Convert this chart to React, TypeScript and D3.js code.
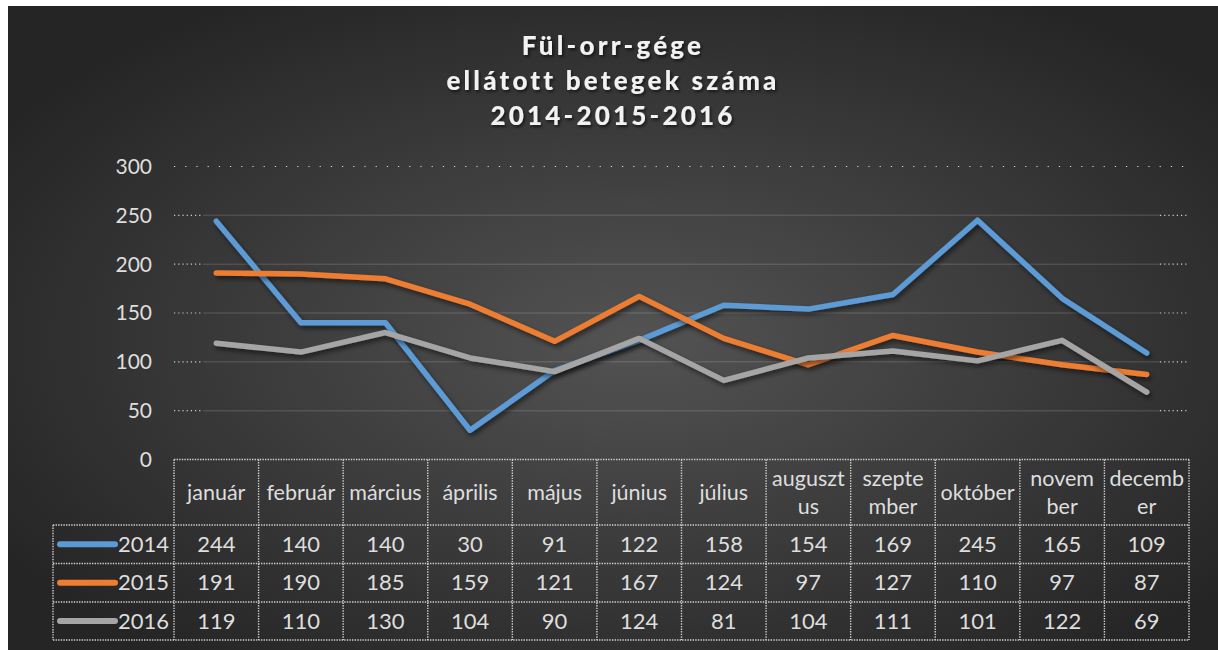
import React from "react";
import * as d3 from "d3";

const categories = ["január", "február", "március", "április", "május", "június", "július", "augusztus", "szeptember", "október", "november", "december"];
const categoryLabels = [["január"], ["február"], ["március"], ["április"], ["május"], ["június"], ["július"], ["auguszt", "us"], ["szepte", "mber"], ["október"], ["novem", "ber"], ["decemb", "er"]];
const series2014 = [244, 140, 140, 30, 91, 122, 158, 154, 169, 245, 165, 109];
const series2015 = [191, 190, 185, 159, 121, 167, 124, 97, 127, 110, 97, 87];
const series2016 = [119, 110, 130, 104, 90, 124, 81, 104, 111, 101, 122, 69];
const seriesNames = ["2014", "2015", "2016"];
const seriesColors = ["#5B9BD5", "#ED7D31", "#A5A5A5"];
const yTicks = [0, 50, 100, 150, 200, 250, 300];
const titleLines = ["Fül-orr-gége", "ellátott betegek száma", "2014-2015-2016"];

const W = 1218, H = 650;
const plotL = 174, plotR = 1189, plotT = 166.5, plotB = 459.5;
const rowYs = [459.5, 525, 563.5, 602, 640];
const legendL = 53;
const font = "Lato, 'Open Sans', sans-serif";
const textCol = "#dedede";
const borderProps = { stroke: "#cfcfcf", strokeWidth: 1.4, strokeDasharray: "1.4 1.2" };

export default function App() {
  const data = [series2014, series2015, series2016];
  const x = d3.scaleBand<string>().domain(categories).range([plotL, plotR]);
  const y = d3.scaleLinear().domain([0, 300]).range([plotB, plotT]);
  const line = d3.line<number>().x((_, i) => (x(categories[i]) as number) + x.bandwidth() / 2).y((d) => y(d));

  return (
    <svg width={W} height={H} style={{ position: "absolute", left: 0, top: 0 }}>
      <defs>
        <radialGradient id="bg" cx="52%" cy="52%" r="62%">
          <stop offset="0%" stopColor="#535353" />
          <stop offset="100%" stopColor="#252525" />
        </radialGradient>
        <filter id="sh" x="-10%" y="-10%" width="120%" height="130%">
          <feDropShadow dx="2" dy="3" stdDeviation="2.5" floodColor="#000" floodOpacity="0.55" />
        </filter>
        <filter id="tsh" x="-10%" y="-30%" width="120%" height="160%">
          <feDropShadow dx="1.5" dy="2" stdDeviation="1.5" floodColor="#000" floodOpacity="0.6" />
        </filter>
      </defs>
      <rect x={8} y={6} width={W - 8} height={H - 6} fill="url(#bg)" />

      {/* Title */}
      <g filter="url(#tsh)">
        {titleLines.map((t, i) => (
          <text key={t} x={613} y={55 + i * 35} textAnchor="middle" fill="#f2f2f2" fontFamily={font} fontWeight="900" fontSize={26} letterSpacing={3.2}>
            {t}
          </text>
        ))}
      </g>

      {/* Gridlines */}
      {yTicks.filter((t) => t > 0).map((t) =>
        t === 300 ? (
          <line key={t} x1={plotL} x2={plotR} y1={y(t)} y2={y(t)} stroke="#dcdcdc" strokeWidth={1.2} strokeDasharray="1.2 10" />
        ) : (
          <g key={t}>
            <line x1={plotL} x2={203} y1={y(t)} y2={y(t)} stroke="#cfcfcf" strokeWidth={1.2} strokeDasharray="1.2 3" />
            <line x1={203} x2={1160} y1={y(t)} y2={y(t)} stroke="#ffffff" strokeOpacity={0.12} strokeWidth={1.5} />
            <line x1={1160} x2={plotR} y1={y(t)} y2={y(t)} stroke="#cfcfcf" strokeWidth={1.2} strokeDasharray="1.2 3" />
          </g>
        )
      )}

      {/* Y tick labels */}
      {yTicks.map((t) => (
        <text key={t} x={152} y={y(t)} dy="0.35em" textAnchor="end" fill={textCol} fontFamily={font} fontSize={21}>
          {t}
        </text>
      ))}

      {/* Lines */}
      {data.map((s, i) => (
        <path key={i} d={line(s) || ""} fill="none" stroke={seriesColors[i]} strokeWidth={5.5} strokeLinecap="round" strokeLinejoin="round" filter="url(#sh)" />
      ))}

      {/* Data table */}
      <g>
        <line x1={plotL} x2={plotR} y1={rowYs[0]} y2={rowYs[0]} {...borderProps} />
        {rowYs.slice(1).map((ry) => (
          <line key={ry} x1={legendL} x2={plotR} y1={ry} y2={ry} {...borderProps} />
        ))}
        <line x1={legendL} x2={legendL} y1={rowYs[1]} y2={rowYs[4]} {...borderProps} />
        {categories.map((c) => (
          <line key={c} x1={x(c) as number} x2={x(c) as number} y1={rowYs[0]} y2={rowYs[4]} {...borderProps} />
        ))}
        <line x1={plotR} x2={plotR} y1={rowYs[0]} y2={rowYs[4]} {...borderProps} />

        {categories.map((c, i) => {
          const lines = categoryLabels[i];
          const cx = (x(c) as number) + x.bandwidth() / 2;
          const cy = (rowYs[0] + rowYs[1]) / 2;
          return (
            <text key={c} x={cx} textAnchor="middle" fill={textCol} fontFamily={font} fontSize={21.5}>
              {lines.map((l, j) => (
                <tspan key={j} x={cx} y={cy + (j - (lines.length - 1) / 2) * 28} dy="0.35em">
                  {l}
                </tspan>
              ))}
            </text>
          );
        })}

        {data.map((s, r) => {
          const cy = (rowYs[r + 1] + rowYs[r + 2]) / 2;
          return (
            <g key={r}>
              <line x1={60} x2={115} y1={cy} y2={cy} stroke={seriesColors[r]} strokeWidth={6} strokeLinecap="round" />
              <text x={118} y={cy} dy="0.35em" fill={textCol} fontFamily={font} fontSize={22}>
                {seriesNames[r]}
              </text>
              {s.map((v, i) => (
                <text key={i} x={(x(categories[i]) as number) + x.bandwidth() / 2} y={cy} dy="0.35em" textAnchor="middle" fill={textCol} fontFamily={font} fontSize={22}>
                  {v}
                </text>
              ))}
            </g>
          );
        })}
      </g>
    </svg>
  );
}
